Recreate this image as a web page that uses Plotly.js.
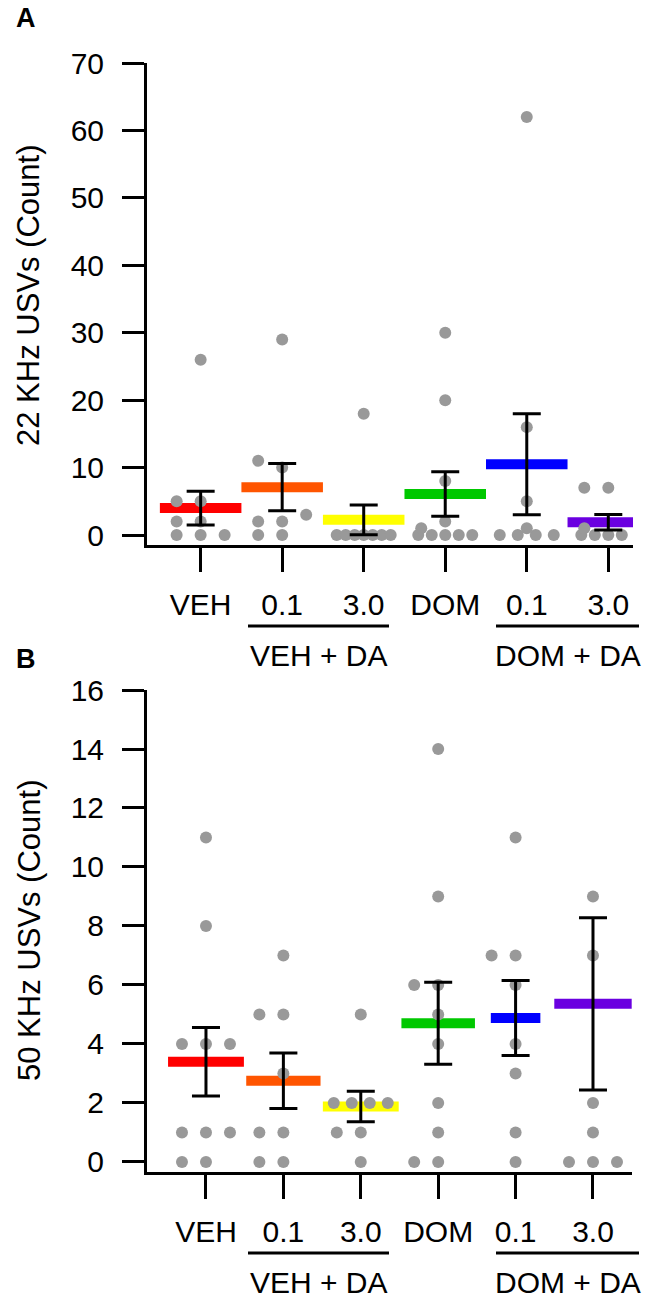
<!DOCTYPE html>
<html>
<head>
<meta charset="utf-8">
<script src="https://cdn.plot.ly/plotly-3.0.1.min.js"></script>
<style>
  html, body { margin: 0; padding: 0; background: #fff; }
  #chart { width: 653px; height: 1300px; }
</style>
</head>
<body>
<div id="chart"></div>
<script>
// ---- data ----
const groups = ['VEH', '0.1', '3.0', 'DOM', '0.1', '3.0'];

// panel A: 22 kHz USVs, individual animals
const a22Veh = [0, 0, 0, 2, 2, 5, 5, 26];
const a22VehDa01 = [0, 0, 2, 2, 3, 10, 11, 29];
const a22VehDa30 = [0, 0, 0, 0, 0, 0, 0, 18];
const a22Dom = [0, 0, 0, 0, 0, 1, 2, 8, 20, 30];
const a22DomDa01 = [0, 0, 0, 0, 1, 5, 16, 62];
const a22DomDa30 = [0, 0, 0, 0, 0, 1, 7, 7];
const a22Mean = [4.0, 7.1, 2.25, 6.1, 10.5, 1.9];
const a22Sem = [2.5, 3.5, 2.2, 3.3, 7.5, 1.15];

// panel B: 50 kHz USVs, individual animals
const b50Veh = [0, 0, 1, 1, 1, 4, 4, 4, 8, 11];
const b50VehDa01 = [0, 0, 1, 1, 3, 5, 5, 7];
const b50VehDa30 = [0, 1, 1, 2, 2, 2, 2, 5];
const b50Dom = [0, 0, 1, 2, 4, 5, 6, 6, 9, 14];
const b50DomDa01 = [0, 1, 3, 4, 6, 7, 7, 11];
const b50DomDa30 = [0, 0, 0, 1, 2, 7, 9];
const b50Mean = [3.4, 2.75, 1.88, 4.7, 4.88, 5.36];
const b50Sem = [1.16, 0.94, 0.52, 1.39, 1.27, 2.92];

// ---- styling / geometry ----
const W = 653, H = 1300;
const FONT = 'Liberation Sans, Arial, Helvetica, sans-serif';
const barColors = ['#ff0000', '#ff5500', '#ffff00', '#00c800', '#0000ff', '#6a00e0'];
const dotColor = '#999999';

// plot boxes in page pixels
const panels = [
  { key: '', left: 147, right: 633, top: 63, bottom: 545, xr: [0.342, 6.303], yr: [-1.48, 70], dtick: 10,
    title: '22 KHz USVs (Count)', titleY: 295, letter: 'A', letterY: 18, lineY: 626,
    widths: [1, 1, 1, 1, 1, 1],
    points: [a22Veh, a22VehDa01, a22VehDa30, a22Dom, a22DomDa01, a22DomDa30], mean: a22Mean, sem: a22Sem },
  { key: '2', left: 147, right: 632, top: 690, bottom: 1172, xr: [0.238, 6.504], yr: [-0.34, 16], dtick: 2,
    title: '50 KHz USVs (Count)', titleY: 930, letter: 'B', letterY: 659, lineY: 1253,
    widths: [0.98, 0.96, 0.98, 0.95, 0.64, 1],
    points: [b50Veh, b50VehDa01, b50VehDa30, b50Dom, b50DomDa01, b50DomDa30], mean: b50Mean, sem: b50Sem }
];

// simple beeswarm: spread points of similar height sideways so they do not overlap
function swarm(values, center, pxX, pxY) {
  const D = 11, STEP = 24, HALF = 27;
  const placed = [];
  const out = new Array(values.length);
  const order = values.map((v, i) => i).sort((a, b) => values[a] - values[b]);
  let k = 0;
  while (k < order.length) {
    let j = k;
    while (j < order.length && values[order[j]] === values[order[k]]) j++;
    const n = j - k, yPx = values[order[k]] * pxY;
    for (let m = 0; m < n; m++) {
      let off;
      if (n > 3) {
        off = -HALF + m * 2 * HALF / (n - 1);
      } else {
        let best = 0, bestD = -1;
        for (const c of [0, -STEP, STEP]) {
          const d = placed.reduce((mn, p) => Math.min(mn, Math.hypot(p.x - c, p.y - yPx)), Infinity);
          if (d >= D) { best = c; bestD = d; break; }
          if (d > bestD) { bestD = d; best = c; }
        }
        off = best;
      }
      placed.push({ x: off, y: yPx });
      out[order[k + m]] = center + off / pxX;
    }
    k = j;
  }
  return out;
}

const data = [];
const layout = {
  width: W, height: H,
  margin: { l: 0, r: 0, t: 0, b: 0 },
  paper_bgcolor: '#fff', plot_bgcolor: '#fff',
  showlegend: false,
  font: { family: FONT, color: '#000', size: 30 },
  annotations: [], shapes: []
};

panels.forEach(p => {
  const xa = 'x' + p.key, ya = 'y' + p.key;
  const pxX = (p.right - p.left) / (p.xr[1] - p.xr[0]);
  const pxY = (p.bottom - p.top) / (p.yr[1] - p.yr[0]);
  const cats = groups.map((g, i) => i + 1);

  // mean bars
  cats.forEach((c, i) => {
    const hw = p.widths[i] / 2;
    data.push({
      type: 'scatter', mode: 'lines', xaxis: xa, yaxis: ya,
      x: [c - hw, c + hw], y: [p.mean[i], p.mean[i]],
      line: { color: barColors[i], width: 10 }, hoverinfo: 'skip'
    });
  });

  // individual animals
  let px = [], py = [];
  p.points.forEach((vals, i) => {
    px = px.concat(swarm(vals, cats[i], pxX, pxY));
    py = py.concat(vals);
  });
  data.push({
    type: 'scatter', mode: 'markers', xaxis: xa, yaxis: ya,
    x: px, y: py, cliponaxis: false,
    marker: { color: dotColor, size: 12, line: { width: 0 } }
  });

  // SEM error bars
  data.push({
    type: 'scatter', mode: 'markers', xaxis: xa, yaxis: ya,
    x: cats, y: p.mean, cliponaxis: false,
    marker: { size: 1, color: 'rgba(0,0,0,0)' },
    error_y: { type: 'data', array: p.sem, visible: true, color: '#000', thickness: 3, width: 14 }
  });

  const yTicks = [];
  for (let v = 0; v <= p.yr[1] + 1e-9; v += p.dtick) yTicks.push(v);

  layout['xaxis' + p.key] = {
    domain: [p.left / W, p.right / W], range: p.xr, anchor: ya,
    showline: true, linecolor: '#000', linewidth: 3,
    ticks: 'outside', ticklen: 24, tickwidth: 3, tickcolor: '#000',
    tickvals: cats, ticktext: groups, ticklabelstandoff: 7,
    tickfont: { family: FONT, size: 30, color: '#000' },
    showgrid: false, zeroline: false, fixedrange: true
  };
  layout['yaxis' + p.key] = {
    domain: [1 - p.bottom / H, 1 - p.top / H], range: p.yr, anchor: xa,
    showline: true, linecolor: '#000', linewidth: 3,
    ticks: 'outside', ticklen: 22, tickwidth: 3, tickcolor: '#000',
    tickvals: yTicks, ticklabelstandoff: 12,
    tickfont: { family: FONT, size: 30, color: '#000' },
    showgrid: false, zeroline: false, fixedrange: true
  };

  // y axis title
  layout.annotations.push({
    xref: 'paper', yref: 'paper', x: 29 / W, y: 1 - p.titleY / H,
    text: p.title, textangle: -90, showarrow: false,
    xanchor: 'center', yanchor: 'middle',
    font: { family: FONT, size: 31, color: '#000' }
  });
  // panel letter
  layout.annotations.push({
    xref: 'paper', yref: 'paper', x: 26 / W, y: 1 - p.letterY / H,
    text: '<b>' + p.letter + '</b>', showarrow: false,
    xanchor: 'center', yanchor: 'middle',
    font: { family: FONT, size: 27, color: '#000' }
  });
  // grouping lines + labels under the dose columns
  [[248, 389, 'VEH + DA'], [496, 639, 'DOM + DA']].forEach(g => {
    layout.shapes.push({
      type: 'line', xref: 'paper', yref: 'paper',
      x0: g[0] / W, x1: g[1] / W, y0: 1 - p.lineY / H, y1: 1 - p.lineY / H,
      line: { color: '#000', width: 3 }
    });
    layout.annotations.push({
      xref: 'paper', yref: 'paper', x: (g[0] + g[1]) / 2 / W, y: 1 - (p.lineY + 29) / H,
      text: g[2], showarrow: false, xanchor: 'center', yanchor: 'middle',
      font: { family: FONT, size: 30, color: '#000' }
    });
  });
});

Plotly.newPlot('chart', data, layout, { displayModeBar: false, staticPlot: true });
</script>
</body>
</html>
